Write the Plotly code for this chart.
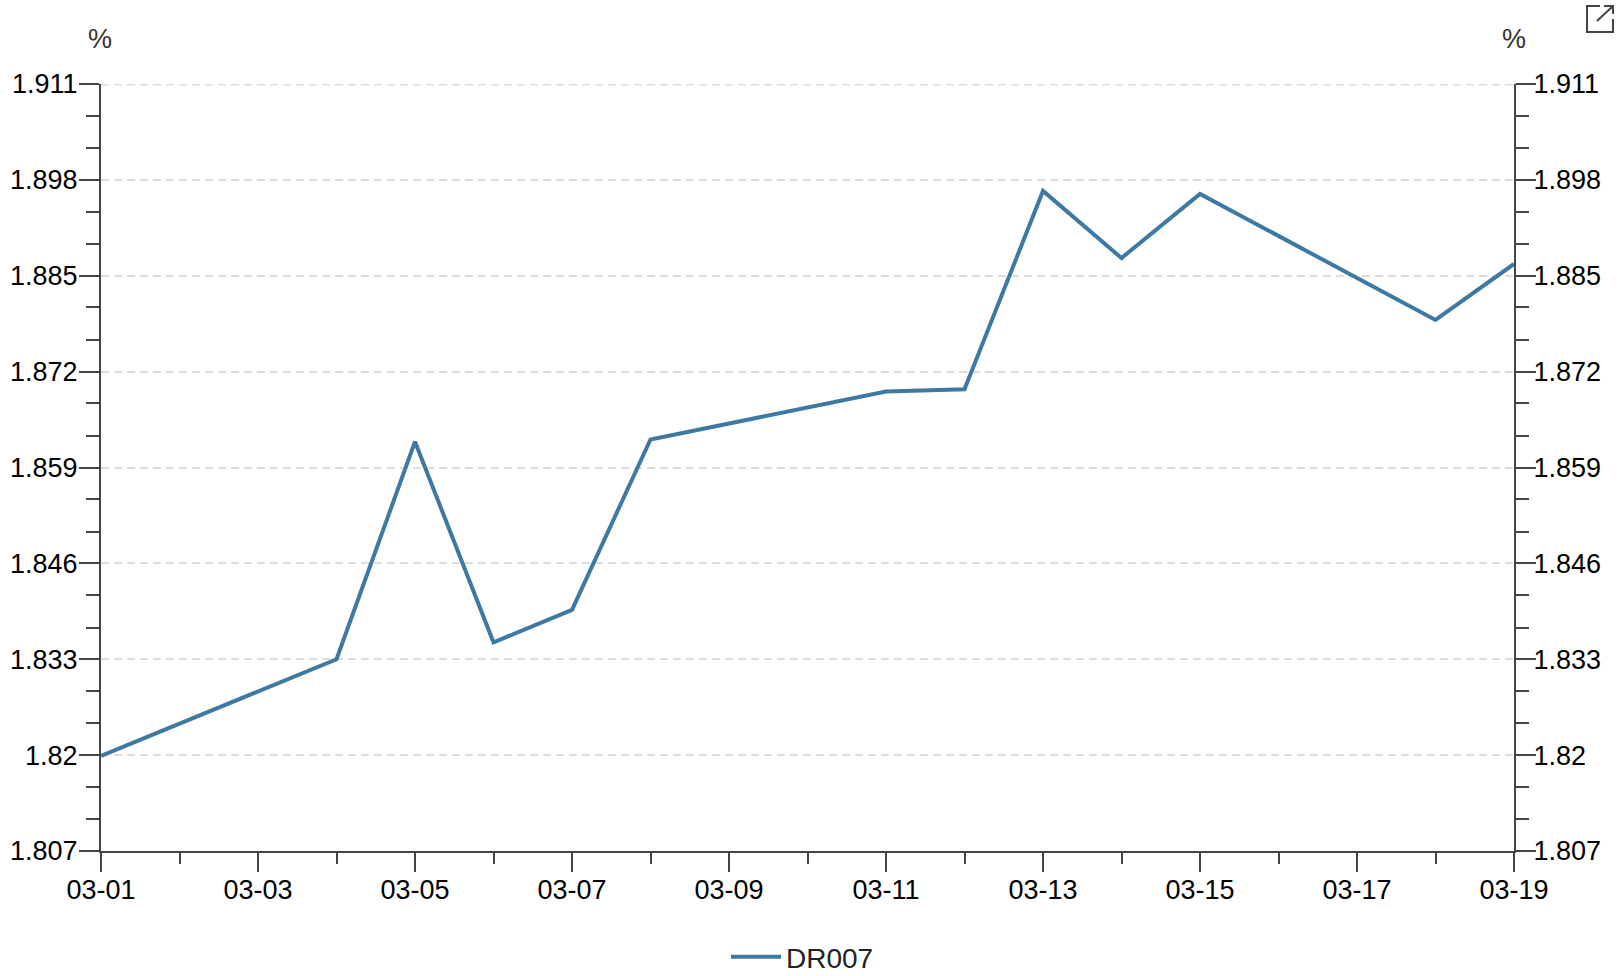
import plotly.graph_objects as go

dates = ["2021-03-01","2021-03-04","2021-03-05","2021-03-06","2021-03-07","2021-03-08","2021-03-11",
         "2021-03-12","2021-03-13","2021-03-14","2021-03-15","2021-03-18","2021-03-19"]
dr007 = [1.8199,1.833,1.8625,1.8353,1.8397,1.8628,1.8693,1.8696,1.8965,1.8874,1.8961,1.879,1.8866]

x_ticks = ["2021-03-%02d" % d for d in range(1,20,2)]
x_labels = ["03-%02d" % d for d in range(1,20,2)]
x_minor = ["2021-03-%02d" % d for d in range(2,20,2)]
y_ticks = [1.807,1.82,1.833,1.846,1.859,1.872,1.885,1.898,1.911]
y_labels = ["1.807","1.82","1.833","1.846","1.859","1.872","1.885","1.898","1.911"]
y_minor = [1.8113,1.8157,1.8243,1.8287,1.8373,1.8417,1.8503,1.8547,1.8633,1.8677,1.8763,1.8807,1.8893,1.8937,1.9023,1.9067]

W, H = 1624, 990
PLOT_BOTTOM, L, R, T = 851, 101, 110, 84
FONT = "Liberation Sans"
AX = "#444444"
GRID = "#dddddd"
def px(v): return v/W
def py(v): return 1-v/H

fig = go.Figure()
fig.add_trace(go.Scatter(x=dates, y=dr007, mode="lines", name="DR007", line=dict(color="#3e79a3", width=4)))
fig.add_trace(go.Scatter(x=dates, y=dr007, mode="lines", yaxis="y2", showlegend=False, hoverinfo="skip",
                         line=dict(color="rgba(0,0,0,0)", width=0)))

yaxis_common = dict(range=[y_ticks[0], y_ticks[-1]], domain=[py(PLOT_BOTTOM), py(T)], automargin=False,
                    tickmode="array", tickvals=y_ticks, ticktext=y_labels,
                    ticks="outside", ticklen=20, tickwidth=1.5, tickcolor=AX, showline=True, linecolor=AX, linewidth=2,
                    tickfont=dict(family=FONT, size=27, color="#000"), zeroline=False,
                    minor=dict(tickmode="array", tickvals=y_minor, ticks="outside", ticklen=13, tickwidth=1.5, tickcolor=AX, showgrid=False))

fig.update_layout(
    width=W, height=H, autosize=False, margin=dict(l=0, r=0, t=0, b=0, pad=0),
    paper_bgcolor="white", plot_bgcolor="white",
    xaxis=dict(type="date", range=[x_ticks[0], x_ticks[-1]], domain=[L/W, 1-R/W], automargin=False,
               tickmode="array", tickvals=x_ticks, ticktext=x_labels,
               ticks="outside", ticklen=19, tickwidth=1.5, tickcolor=AX, showline=True, linecolor=AX, linewidth=2,
               tickfont=dict(family=FONT, size=27, color="#000"), showgrid=False, zeroline=False, tickangle=0,
               ticklabelstandoff=-5,
               minor=dict(tickmode="array", tickvals=x_minor, ticks="outside", ticklen=11, tickwidth=1.5, tickcolor=AX, showgrid=False)),
    yaxis=dict(**yaxis_common, showgrid=True, gridcolor=GRID, gridwidth=1.5, griddash="8px,5px", side="left", ticklabelstandoff=-4),
    yaxis2=dict(**yaxis_common, showgrid=False, overlaying="y", side="right", anchor="x", ticklabelstandoff=-8),
    showlegend=True,
    legend=dict(orientation="h", x=px(726), y=py(982), xanchor="left", yanchor="bottom", itemwidth=50,
                font=dict(family=FONT, size=28, color="#222"), bgcolor="rgba(0,0,0,0)"),
    annotations=[
        dict(text="%", xref="paper", yref="paper", x=px(100), y=py(39), xanchor="center", yanchor="middle", showarrow=False,
             font=dict(family=FONT, size=27, color="#333")),
        dict(text="%", xref="paper", yref="paper", x=px(1514), y=py(39), xanchor="center", yanchor="middle", showarrow=False,
             font=dict(family=FONT, size=27, color="#333")),
    ],
    shapes=[
        dict(type="line", xref="x domain", yref="y", x0=0, x1=1, y0=y_ticks[-1], y1=y_ticks[-1], layer="below",
             line=dict(color=GRID, width=3, dash="8px,5px")),
        dict(type="path", xref="paper", yref="paper",
             path=f"M {px(1600)} {py(6)} L {px(1587)} {py(6)} L {px(1587)} {py(32)} L {px(1613)} {py(32)} L {px(1613)} {py(19)}",
             line=dict(color="#444", width=2)),
        dict(type="path", xref="paper", yref="paper",
             path=f"M {px(1597)} {py(21)} L {px(1613)} {py(6)} M {px(1604)} {py(6)} L {px(1613)} {py(6)} L {px(1613)} {py(14)}",
             line=dict(color="#444", width=2)),
    ],
)
fig.write_html("out.html", config=dict(displayModeBar=False),
               post_script="document.body.style.margin='0';document.documentElement.style.overflow='hidden';")
